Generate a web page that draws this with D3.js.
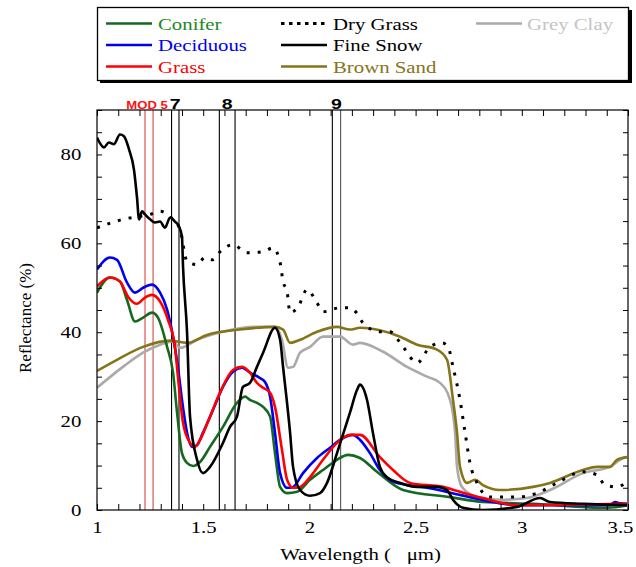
<!DOCTYPE html>
<html><head><meta charset="utf-8">
<script src="https://cdn.jsdelivr.net/npm/d3@7"></script>
<style>body{margin:0;background:#fff;} svg{display:block;}</style>
</head><body>
<svg id="c" width="636" height="567"></svg>
<script>
// ---------- data ----------
const xTickLabels = [1, 1.5, 2, 2.5, 3, 3.5];
const yTickLabels = [0, 20, 40, 60, 80];
const bandLabels = ["MOD 5", "7", "8", "9"];
const bandLo = [1.226, 1.351, 1.576, 2.108];
const bandHi = [1.264, 1.386, 1.650, 2.147];

const coniferWl = [1.000,1.061,1.108,1.141,1.179,1.217,1.259,1.287,1.330,1.358,1.377,1.400,1.424,1.452,1.485,1.532,1.593,1.659,1.697,1.720,1.753,1.782,1.815,1.838,1.862,1.895,1.942,2.003,2.064,2.130,2.182,2.238,2.318,2.441,2.662,2.817,3.053,3.401,3.495];
const coniferR  = [48.9,52.3,51.4,47.3,42.4,43.3,44.4,43.3,36.7,30.9,21.9,12.8,10.6,9.9,10.8,14.2,18.7,24.1,25.5,24.8,24.1,23.2,21.0,12.8,5.2,3.8,4.1,6.8,9.0,11.3,12.4,11.7,8.6,4.5,2.9,1.8,1.4,0.5,1.0];

const deciduousWl = [1.000,1.061,1.094,1.141,1.179,1.217,1.259,1.297,1.330,1.358,1.381,1.400,1.424,1.447,1.471,1.499,1.546,1.593,1.640,1.683,1.720,1.767,1.791,1.815,1.838,1.862,1.895,1.923,1.970,2.036,2.097,2.158,2.205,2.238,2.285,2.332,2.379,2.460,2.554,2.709,2.864,2.977,3.415,3.439,3.462,3.495];
const deciduousR  = [54.1,56.8,56.3,51.2,48.9,50.0,50.7,48.9,45.1,39.0,32.2,24.8,17.4,14.2,14.6,17.4,22.5,27.7,31.1,32.0,30.9,29.7,28.8,25.5,17.4,8.3,5.0,5.2,8.3,11.7,14.0,16.2,16.9,15.8,12.8,9.0,6.8,5.6,5.0,3.4,1.8,1.1,1.1,1.8,1.5,1.4];

const grassWl = [1.000,1.061,1.108,1.146,1.188,1.226,1.259,1.297,1.334,1.367,1.381,1.405,1.438,1.461,1.485,1.532,1.579,1.640,1.683,1.720,1.753,1.782,1.815,1.838,1.871,1.895,1.923,1.956,2.003,2.064,2.130,2.191,2.238,2.332,2.394,2.474,2.629,2.709,2.817,2.977,3.495];
const grassR  = [50.3,52.3,51.4,48.0,46.4,47.8,48.4,46.9,42.8,36.7,30.0,19.6,15.1,14.2,15.8,21.0,26.4,31.5,32.2,30.9,28.6,27.5,26.4,23.2,13.5,6.8,5.0,5.2,7.4,11.3,15.1,16.9,16.9,11.9,9.0,6.1,5.2,4.1,2.7,1.1,1.4];

const dryGrassWl = [1.000,1.122,1.250,1.297,1.344,1.391,1.424,1.471,1.508,1.546,1.579,1.640,1.706,1.782,1.829,1.862,1.876,1.895,1.909,1.947,1.989,2.036,2.064,2.144,2.191,2.229,2.252,2.332,2.379,2.441,2.507,2.568,2.624,2.653,2.676,2.709,2.733,2.756,2.789,2.850,2.977,3.072,3.166,3.288,3.354,3.392,3.448,3.495];
const dryGrassR  = [63.5,65.4,66.5,67.2,66.0,63.1,55.9,55.2,56.8,56.3,58.1,59.7,57.9,58.1,59.0,55.7,51.4,49.1,44.4,45.7,49.6,46.6,44.6,45.5,45.5,43.9,42.1,40.1,40.1,36.7,33.1,36.7,37.6,36.7,32.2,24.8,17.4,10.6,6.1,2.9,2.9,3.8,6.1,8.6,7.9,5.6,5.2,6.3];

const snowWl = [1.000,1.033,1.056,1.080,1.108,1.127,1.151,1.174,1.188,1.198,1.212,1.226,1.250,1.273,1.297,1.320,1.344,1.367,1.386,1.400,1.405,1.424,1.438,1.471,1.499,1.532,1.593,1.626,1.659,1.687,1.720,1.753,1.782,1.838,1.862,1.876,1.909,1.923,1.956,2.003,2.050,2.083,2.130,2.191,2.224,2.238,2.271,2.299,2.332,2.365,2.427,2.507,2.601,2.648,2.676,2.723,2.817,2.977,3.086,3.133,3.288,3.495];
const snowR  = [83.8,81.6,82.7,82.3,84.5,84.1,81.1,76.6,70.5,65.4,67.2,66.5,65.4,64.7,64.9,63.5,65.8,64.9,63.8,61.5,54.8,39.9,21.0,11.3,8.3,9.7,15.1,18.7,21.0,27.7,28.6,32.2,35.4,41.0,38.3,32.2,17.4,9.7,4.5,3.2,3.8,6.1,12.8,21.9,27.0,28.2,24.8,17.4,9.7,7.4,6.1,5.2,5.2,4.5,2.3,0.5,0.0,0.7,2.7,1.8,1.4,1.1];

const sandWl = [1.000,1.094,1.217,1.344,1.424,1.518,1.673,1.838,1.876,1.909,1.956,2.036,2.130,2.191,2.238,2.427,2.507,2.601,2.648,2.676,2.695,2.709,2.742,2.780,2.817,2.897,3.053,3.133,3.288,3.354,3.415,3.448,3.495];
const sandR  = [31.3,33.8,36.7,38.1,37.6,39.4,40.6,41.2,40.6,37.6,38.3,40.1,41.2,40.6,41.0,39.0,37.2,36.1,33.8,24.8,17.4,9.7,6.1,6.8,5.6,4.5,5.2,6.1,9.0,9.7,9.7,11.3,11.9];

const clayWl = [1.000,1.122,1.217,1.297,1.358,1.391,1.471,1.593,1.753,1.838,1.871,1.899,1.923,1.956,2.003,2.064,2.144,2.205,2.238,2.347,2.460,2.554,2.615,2.662,2.686,2.695,2.718,2.789,2.897,3.024,3.133,3.288,3.415,3.462,3.495];
const clayR  = [27.5,32.2,35.4,37.2,37.9,36.5,38.3,40.1,41.2,41.2,38.3,32.0,32.2,35.4,36.7,39.0,39.0,37.2,37.6,35.6,32.2,30.0,28.6,24.8,17.4,9.7,5.2,2.9,2.3,2.7,4.5,8.3,9.7,11.3,11.9];

// ---------- setup ----------
const series = [
  {name:"Conifer",    wl:coniferWl,   r:coniferR,   color:"#15691f", text:"#1a8a22", dash:null, col:0, row:0},
  {name:"Deciduous",  wl:deciduousWl, r:deciduousR, color:"#0000f0", text:"#0000f0", dash:null, col:0, row:1},
  {name:"Grass",      wl:grassWl,     r:grassR,     color:"#ff0000", text:"#ff0000", dash:null, col:0, row:2},
  {name:"Dry Grass",  wl:dryGrassWl,  r:dryGrassR,  color:"#000000", text:"#000000", dash:"3,8", col:1, row:0},
  {name:"Fine Snow",  wl:snowWl,      r:snowR,      color:"#000000", text:"#000000", dash:null, col:1, row:1},
  {name:"Brown Sand", wl:sandWl,      r:sandR,      color:"#857418", text:"#857418", dash:null, col:1, row:2},
  {name:"Grey Clay",  wl:clayWl,      r:clayR,      color:"#aaaaaa", text:"#c4c4c4", dash:null, col:2, row:0}
];
const drawOrder = ["Grey Clay","Brown Sand","Dry Grass","Conifer","Deciduous","Grass","Fine Snow"];

const L = 97, R = 628, T = 110, B = 510;
const x = d3.scaleLinear().domain([1, 3.5]).range([L, R]);
const y = d3.scaleLinear().domain([0, 90]).range([B, T]);
const SERIF = "'Liberation Serif','Times New Roman',serif";
const SANS = "'Liberation Sans',Arial,sans-serif";
const SX = 1.3;

const svg = d3.select("#c");
svg.append("rect").attr("width",636).attr("height",567).attr("fill","#fff");

svg.append("clipPath").attr("id","clip").append("rect")
  .attr("x",L).attr("y",T).attr("width",R-L).attr("height",B-T);

// band lines
const bands = svg.append("g");
bandLabels.forEach((lab, i) => {
  const isMod = i === 0;
  [bandLo[i], bandHi[i]].forEach((w, j) => {
    bands.append("line")
      .attr("x1", x(w)).attr("x2", x(w)).attr("y1", T).attr("y2", B)
      .attr("stroke", isMod ? "#d95555" : (i === 3 && j === 1 ? "#555" : "#000"))
      .attr("stroke-width", isMod ? 1.2 : 1.1);
  });
  const cx = (x(bandLo[i]) + x(bandHi[i])) / 2 + (isMod ? -2 : 0);
  const g = svg.append("g").attr("transform", `translate(${cx},108.5)`);
  g.append("text").attr("transform", `scale(${isMod?1.25:1.3},1)`)
    .attr("text-anchor","middle")
    .attr("font-family", SANS).attr("font-weight","bold")
    .attr("font-size", isMod ? 10.5 : 15)
    .attr("fill", isMod ? "#ff1010" : "#000")
    .text(lab);
});

// curves
const line = d3.line().x(d => x(d[0])).y(d => y(d[1])).curve(d3.curveMonotoneX);
const curves = svg.append("g").attr("clip-path","url(#clip)");
drawOrder.forEach(n => {
  const s = series.find(q => q.name === n);
  const pts = d3.zip(s.wl, s.r);
  curves.append("path").datum(pts)
    .attr("d", line).attr("fill","none")
    .attr("stroke", s.color)
    .attr("stroke-width", s.dash ? 3 : 2.6)
    .attr("stroke-dasharray", s.dash)
    .attr("stroke-linejoin","round");
});

// axes
const xMinor = d3.range(10, 36).map(v => v / 10);
const yMinor = d3.range(0, 91, 5);
const fmtX = d => xTickLabels.some(t => Math.abs(t - d) < 1e-6) ? String(+d.toFixed(1)) : "";
const fmtY = d => yTickLabels.includes(d) ? String(d) : "";

function styleAxis(g) {
  g.select(".domain").remove();
  g.selectAll(".tick line").attr("stroke","#000").attr("stroke-width",1);
  g.selectAll("text").attr("font-family", SERIF).attr("font-size", 16).attr("fill","#000");
}
const gx = svg.append("g").attr("transform",`translate(0,${B})`)
  .call(d3.axisBottom(x).tickValues(xMinor).tickSize(-6).tickPadding(12).tickFormat(fmtX));
styleAxis(gx);
gx.selectAll("text").attr("transform", d => Math.abs(d - 3.5) < 1e-6
  ? `translate(-8,0) scale(${SX},1)` : `scale(${SX},1)`);

const gxt = svg.append("g").attr("transform",`translate(0,${T})`)
  .call(d3.axisTop(x).tickValues(xMinor).tickSize(-6).tickFormat(""));
styleAxis(gxt);

const gy = svg.append("g").attr("transform",`translate(${L},0)`)
  .call(d3.axisLeft(y).tickValues(yMinor).tickSize(-5).tickPadding(12).tickFormat(fmtY));
styleAxis(gy);
gy.selectAll("text").attr("transform", `scale(${SX},1)`);

const gyr = svg.append("g").attr("transform",`translate(${R},0)`)
  .call(d3.axisRight(y).tickValues(yMinor).tickSize(-5).tickFormat(""));
styleAxis(gyr);

// frame
svg.append("rect").attr("x",L).attr("y",T).attr("width",R-L).attr("height",B-T)
  .attr("fill","none").attr("stroke","#000").attr("stroke-width",1.2);

// axis titles
svg.append("g").attr("transform",`translate(${(L+R)/2 - 2},560)`)
  .append("text").attr("transform",`scale(${SX},1)`).attr("text-anchor","middle")
  .attr("font-family",SERIF).attr("font-size",16).attr("fill","#000")
  .attr("xml:space","preserve").text("Wavelength (   \u03bcm)");
svg.append("text").attr("transform","translate(31,318) rotate(-90)")
  .attr("text-anchor","middle").attr("font-family",SERIF).attr("font-size",17).attr("fill","#000")
  .text("Reflectance (%)");

// legend
const lg = svg.append("g");
lg.append("rect").attr("x",100).attr("y",10).attr("width",532).attr("height",73).attr("fill","#000");
lg.append("rect").attr("x",97.5).attr("y",7.5).attr("width",531).attr("height",73)
  .attr("fill","#fff").attr("stroke","#000").attr("stroke-width",1.3);
const colLineX = [[106, 152], [281, 327], [476, 522]];
const colTextX = [158, 333, 527];
const rowLineY = [23.5, 45, 66.5];
series.forEach(s => {
  lg.append("line")
    .attr("x1", colLineX[s.col][0]).attr("x2", colLineX[s.col][1])
    .attr("y1", rowLineY[s.row]).attr("y2", rowLineY[s.row])
    .attr("stroke", s.color).attr("stroke-width", s.dash ? 3 : 2.6)
    .attr("stroke-dasharray", s.dash ? "3.5,4.5" : null);
  lg.append("g").attr("transform", `translate(${colTextX[s.col]},${rowLineY[s.row] + 6})`)
    .append("text").attr("transform", `scale(${SX},1)`)
    .attr("font-family", SERIF).attr("font-size", 16).attr("fill", s.text)
    .text(s.name);
});
</script>
</body></html>
